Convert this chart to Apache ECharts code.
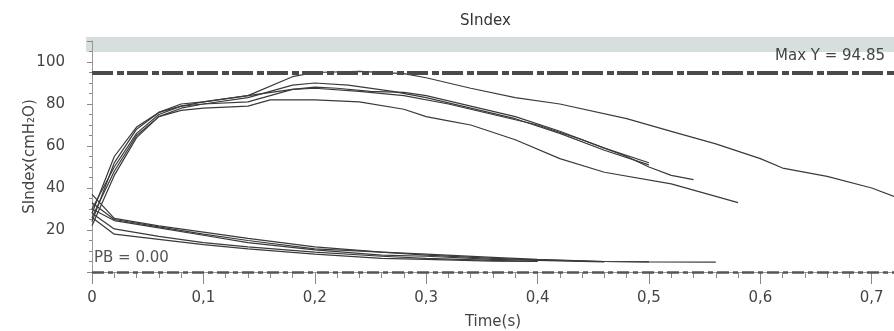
<!DOCTYPE html>
<html>
<head>
<meta charset="utf-8">
<script src="https://cdn.jsdelivr.net/npm/echarts@6/dist/echarts.min.js"></script>
<style>html,body{margin:0;padding:0;background:#fff;}#c{width:894px;height:331px;}</style>
</head>
<body>
<div id="c"></div>
<script>
// ---- data (time s, SIndex cmH2O) ----
const xTicks = [0, 0.1, 0.2, 0.3, 0.4, 0.5, 0.6, 0.7];
const yTicks = [20, 40, 60, 80, 100];
const maxY = 94.85;
const pb = 0.00;

const insp1 = [[0,24],[0.02,52],[0.04,68],[0.06,76],[0.08,80],[0.1,81],[0.14,84],[0.18,93],[0.2,95],[0.24,95.5],[0.28,94.5],[0.3,92.5],[0.34,87.5],[0.38,83],[0.42,80],[0.48,73],[0.52,67],[0.56,61],[0.6,54],[0.62,49.5],[0.66,45.5],[0.7,40],[0.72,36]];
const insp2 = [[0,28],[0.02,55],[0.04,69],[0.06,76],[0.08,79],[0.1,80],[0.14,83],[0.18,89],[0.2,90],[0.23,89],[0.27,86],[0.3,83],[0.34,78],[0.38,73],[0.42,66],[0.46,58],[0.5,51]];
const insp3 = [[0,30],[0.02,50],[0.04,66],[0.06,75],[0.08,79],[0.1,81],[0.14,84],[0.18,87],[0.2,88],[0.22,87.5],[0.25,86],[0.28,85.5],[0.3,84],[0.34,79],[0.38,74],[0.42,67],[0.46,59],[0.5,52]];
const insp4 = [[0,22],[0.02,46],[0.04,64],[0.06,74],[0.08,78],[0.1,80],[0.14,81],[0.18,87],[0.2,87.5],[0.24,86],[0.28,84],[0.32,80],[0.36,75],[0.4,70],[0.44,63],[0.48,55],[0.5,50],[0.52,46],[0.54,44]];
const insp5 = [[0,26],[0.02,48],[0.04,65],[0.06,74],[0.08,77],[0.1,78],[0.14,79],[0.16,82],[0.2,82],[0.24,81],[0.28,77.5],[0.3,74],[0.32,72],[0.34,70],[0.38,63],[0.42,54],[0.46,47.5],[0.52,42],[0.58,33]];

const exp1 = [[0,37],[0.02,25.5],[0.06,22],[0.1,19],[0.14,16],[0.2,12],[0.26,9.5],[0.3,8.5],[0.36,7],[0.4,6],[0.46,5],[0.5,4.8],[0.56,4.7]];
const exp2 = [[0,33],[0.02,25],[0.06,21.5],[0.1,18],[0.14,15],[0.2,11],[0.26,9.5],[0.3,8],[0.36,6.5],[0.4,5.8],[0.46,5],[0.5,4.8]];
const exp3 = [[0,30],[0.02,24.5],[0.06,21],[0.1,17.5],[0.14,14],[0.2,10.5],[0.26,8],[0.3,7.5],[0.36,6],[0.4,5.5],[0.46,4.8]];
const exp4 = [[0,28],[0.02,20.5],[0.06,17],[0.1,14],[0.14,12],[0.2,9.5],[0.26,7.5],[0.3,6.5],[0.36,5.5],[0.4,5]];
const exp5 = [[0,26],[0.02,18],[0.06,15.5],[0.1,13],[0.14,11],[0.2,8.5],[0.26,6.5],[0.3,6],[0.36,5.2],[0.4,5]];

const curves = [insp1, insp2, insp3, insp4, insp5, exp1, exp2, exp3, exp4, exp5];

const chart = echarts.init(document.getElementById('c'), null, {renderer: 'canvas'});
const WIDE = 'DejaVu Sans';

const series = curves.map((d, i) => ({
  type: 'line', data: d, showSymbol: false, symbol: 'none',
  lineStyle: {color: '#3a3a3a', width: 1.2}, animation: false, silent: true
}));

series[0].markLine = {
  silent: true, symbol: 'none', animation: false,
  data: [
    {yAxis: maxY, lineStyle: {color: '#4a4a4a', width: 4, type: [21, 4, 7, 3]},
     label: {show: true, position: 'insideEndTop', formatter: 'Max Y = ' + maxY.toFixed(2), color: '#444', fontSize: 15, fontFamily: WIDE, distance: [9, 9]}},
    {yAxis: pb, lineStyle: {color: '#555', width: 2.5, type: [12, 4, 5, 4]},
     label: {show: true, position: 'insideStartTop', formatter: 'PB = ' + pb.toFixed(2), color: '#555', fontSize: 15, fontFamily: WIDE, distance: [2, 6]}}
  ]
};

chart.setOption({
  animation: false,
  title: {text: 'SIndex', left: 455, top: 9, textStyle: {fontSize: 15, fontWeight: 'normal', color: '#333', fontFamily: WIDE}},
  graphic: [{type: 'rect', shape: {x: 86, y: 37, width: 808, height: 15}, style: {fill: '#d6dfde'}, z: -1}],
  grid: {left: 92, right: 0, top: 41, bottom: 59, outerBoundsMode: 'none', containLabel: false},
  xAxis: {
    type: 'value', min: 0, max: 0.72, interval: 0.1, offset: 2,
    name: 'Time(s)', nameLocation: 'middle', nameGap: 41, nameMoveOverlap: false,
    nameTextStyle: {fontSize: 15, color: '#444', fontFamily: WIDE},
    axisLine: {show: true, lineStyle: {color: '#999', width: 1}},
    axisTick: {show: true, length: 12, lineStyle: {color: '#888'}},
    minorTick: {show: true, splitNumber: 5, length: 6, lineStyle: {color: '#888'}},
    splitLine: {show: false},
    axisLabel: {margin: 17, fontSize: 15, color: '#444', fontFamily: WIDE,
      formatter: v => { const r = Math.round(v * 10) / 10; return (Math.abs(v - r) < 1e-6 && xTicks.includes(r)) ? (r === 0 ? '0' : r.toFixed(1).replace('.', ',')) : ''; }}
  },
  yAxis: {
    type: 'value', min: 0, max: 110, interval: 20, offset: 10,
    name: 'SIndex(cmH₂O)', nameLocation: 'middle', nameGap: 44, nameRotate: 90, nameMoveOverlap: false,
    nameTextStyle: {fontSize: 15, color: '#444', fontFamily: WIDE},
    axisLine: {show: true, lineStyle: {color: '#999', width: 1}},
    axisTick: {show: true, length: 5, lineStyle: {color: '#888'}},
    minorTick: {show: true, splitNumber: 4, length: 3, lineStyle: {color: '#888'}},
    splitLine: {show: false},
    axisLabel: {margin: 17, fontSize: 15, color: '#444', fontFamily: WIDE,
      formatter: v => yTicks.includes(v) ? String(v) : ''}
  },
  series: series
});
</script>
</body>
</html>
